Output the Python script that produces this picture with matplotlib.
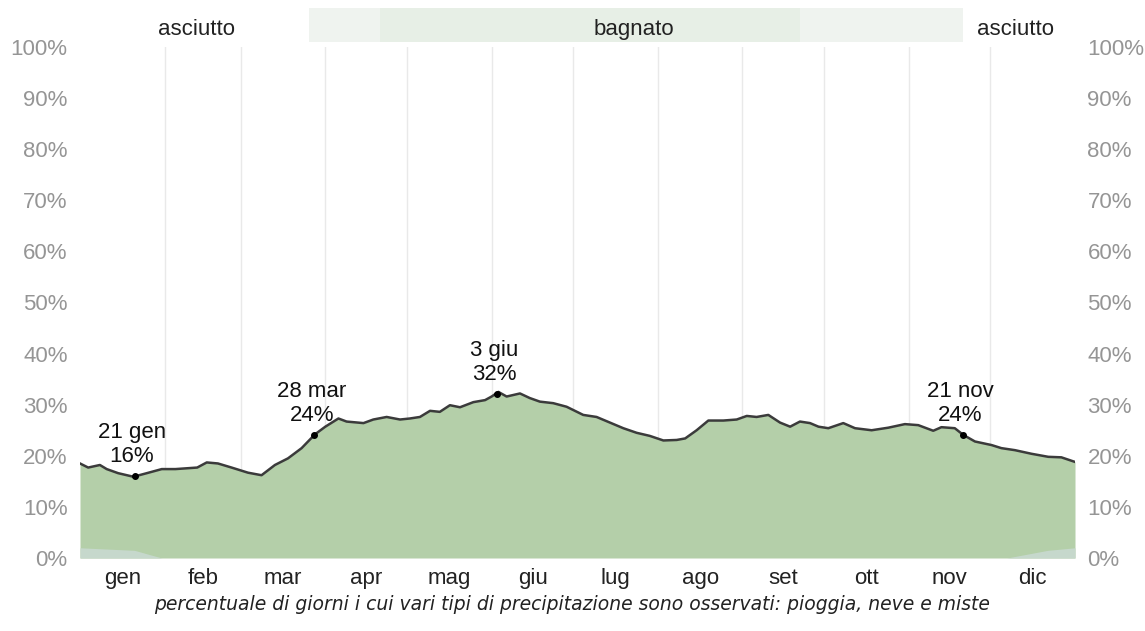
import matplotlib
matplotlib.use("Agg")
import matplotlib.pyplot as plt
import numpy as np

# ---- data ----
days = [0, 3, 7.3, 9.8, 14, 19.6, 24.5, 30, 35, 43, 46.5, 50.6, 55.6, 61.6, 66.6, 71.5, 76.3,
        81.3, 86.2, 90, 94.8, 97.8, 104, 107.6, 112.5, 117.4, 121, 124.7, 128.4, 132, 135.7,
        139.4, 144.3, 148.6, 151, 153.5, 156.5, 161.4, 165, 168.7, 173.6, 178.5, 184.6, 189.5,
        194.4, 199.3, 204.2, 209, 214, 218.9, 222, 226.2, 230.5, 236, 240.9, 244.6, 248.2,
        252.5, 256.8, 260.5, 264.1, 267.8, 270.9, 274.5, 280, 284.3, 290.4, 296.5, 302.6,
        307.5, 313, 316, 320.9, 324, 328.3, 334.4, 338, 343, 349, 355.2, 360, 365]
pct = [18.5, 17.7, 18.2, 17.4, 16.6, 15.9, 16.6, 17.4, 17.4, 17.7, 18.7, 18.5, 17.7, 16.7, 16.2,
       18.2, 19.5, 21.5, 24.2, 25.7, 27.3, 26.7, 26.4, 27.1, 27.6, 27.1, 27.3, 27.6, 28.8, 28.6,
       29.9, 29.5, 30.5, 30.9, 31.6, 32.5, 31.6, 32.2, 31.3, 30.6, 30.3, 29.6, 28.0, 27.6, 26.5,
       25.4, 24.5, 23.9, 23.0, 23.1, 23.4, 25.0, 26.9, 26.9, 27.1, 27.8, 27.6, 28.0, 26.5, 25.7,
       26.7, 26.4, 25.7, 25.4, 26.4, 25.4, 25.0, 25.5, 26.2, 26.0, 24.9, 25.6, 25.4, 24.1, 22.8,
       22.1, 21.5, 21.1, 20.4, 19.8, 19.7, 18.8]

snow_days = [0, 20, 30, 340, 355, 365]
snow_pct = [2.0, 1.5, 0.0, 0.0, 1.5, 2.0]

annot_days = [20, 86, 153, 324]
annot_vals = [16, 24, 32, 24]
annot_labels = ["21 gen\n16%", "28 mar\n24%", "3 giu\n32%", "21 nov\n24%"]

months = ["gen", "feb", "mar", "apr", "mag", "giu", "lug", "ago", "set", "ott", "nov", "dic"]
month_len = [31, 28, 31, 30, 31, 30, 31, 31, 30, 31, 30, 31]
yticks = [0, 10, 20, 30, 40, 50, 60, 70, 80, 90, 100]

band_labels = ["asciutto", "bagnato", "asciutto"]
band_label_days = [42.6, 203, 343]

# ---- figure ----
W, H = 1145, 631
fig = plt.figure(figsize=(W / 100, H / 100), dpi=100)
plt.rcParams['font.family'] = ['Liberation Sans', 'DejaVu Sans']

ax = fig.add_axes([80 / W, 1 - 558 / H, (1075 - 80) / W, (558 - 47) / H])
ax.set_xlim(0, 365)
ax.set_ylim(0, 100)

starts = np.concatenate([[0], np.cumsum(month_len)[:-1]])
mids = starts + np.array(month_len) / 2.0
for s in starts[1:]:
    ax.axvline(s, color='#e9e9e9', lw=1, zorder=0)

ax.fill_between(days, 0, pct, color='#b4cfa9', lw=0, zorder=1)
ax.fill_between(snow_days, 0, snow_pct, color='#c6d8cc', lw=0, zorder=2)
ax.plot(days, pct, color='#3b3b3b', lw=1.8, zorder=3)

for d, v, lab in zip(annot_days, annot_vals, annot_labels):
    ax.plot([d], [v], 'o', color='black', ms=4, zorder=4)
    ax.annotate(lab, (d, v), xytext=(-2, 7), textcoords='offset points',
                ha='center', va='bottom', fontsize=16, color='#111111',
                linespacing=1.15, zorder=5)

for sp in ax.spines.values():
    sp.set_visible(False)
ax.set_xticks(mids)
ax.set_xticklabels(months, fontsize=16, color='#222222')
ax.set_yticks(yticks)
ax.set_yticklabels([f"{v}%" for v in yticks], fontsize=16, color='#959595')
ax.tick_params(axis='x', length=0, pad=7)
ax.tick_params(axis='y', length=0, pad=9, labelright=True, labelleft=True)

# top band
bax = fig.add_axes([80 / W, 1 - 42 / H, (1075 - 80) / W, 34 / H])
bax.set_xlim(0, 365)
bax.set_ylim(0, 1)
bax.axvspan(84, 324, color='#eff3ef', lw=0)
bax.axvspan(110, 264, color='#e7efe6', lw=0)
for d, lab in zip(band_label_days, band_labels):
    bax.text(d, 0.36, lab, ha='center', va='center', fontsize=16, color='#222222')
bax.axis('off')

fig.text(0.5, 1 - 605 / H,
         "percentuale di giorni i cui vari tipi di precipitazione sono osservati: pioggia, neve e miste",
         ha='center', va='center', fontsize=13.5, style='italic', color='#222222',
         family='DejaVu Sans')

fig.savefig("out.png", dpi=100, facecolor='white')
